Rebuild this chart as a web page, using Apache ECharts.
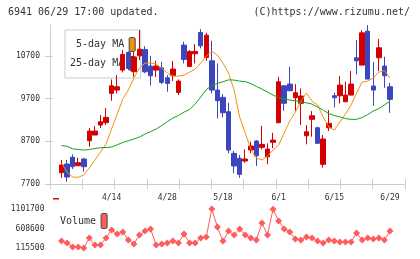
<!DOCTYPE html>
<html>
<head>
<meta charset="utf-8">
<script src="https://cdn.jsdelivr.net/npm/echarts@6/dist/echarts.min.js"></script>
<style>
  html, body { margin: 0; padding: 0; background: #fff; }
  #chart { width: 420px; height: 259px; }
</style>
</head>
<body>
<div id="chart"></div>
<script>
// trading days (2022), labels every 10 days
const dates = ['4/1','4/4','4/5','4/6','4/7','4/8','4/11','4/12','4/13','4/14',
  '4/15','4/18','4/19','4/20','4/21','4/22','4/25','4/26','4/27','4/28',
  '5/2','5/6','5/9','5/10','5/11','5/12','5/13','5/16','5/17','5/18',
  '5/19','5/20','5/23','5/24','5/25','5/26','5/27','5/30','5/31','6/1',
  '6/2','6/3','6/6','6/7','6/8','6/9','6/10','6/13','6/14','6/15',
  '6/16','6/17','6/20','6/21','6/22','6/23','6/24','6/27','6/28','6/29'];

const opens  = [7965,8169,8326,8129,8286,8715,8849,9083,9137,9826,
  9903,10372,10787,10335,10707,10857,10466,10372,10426,10192,
  10239,9849,10958,10458,10755,11255,10669,10590,9903,9732,
  9395,8419,8302,8239,8497,8708,8560,8340,8677,9137,
  10004,10044,9723,9592,8832,9217,9020,8162,9020,9770,
  9770,9629,9786,10661,10489,11286,9997,10661,10466,9981];
const closes = [8145,7864,8106,8199,8106,8942,8942,9160,9263,10004,
  9981,10740,10412,10680,10864,10332,10239,10466,10084,10060,
  10396,10114,10623,10810,10810,10942,11192,9903,9653,9371,
  8497,8122,7927,8286,8591,8363,8630,8520,8731,10098,
  9592,9887,9841,9763,8926,9301,8654,8755,9122,9723,
  10020,9786,10044,10590,11246,10161,9903,10895,10239,9686];
const lows   = [7841,7754,8052,8129,7988,8574,8849,9013,9083,9653,
  9826,10318,10372,10215,10607,10302,10010,10215,10044,9864,
  10114,9786,10529,10458,10529,10880,10590,9826,9240,9263,
  8419,7958,7848,8199,8419,8122,8513,8162,8537,9130,
  9418,9887,9418,9083,8630,8809,8654,8082,8942,9498,
  9592,9629,9786,10271,10489,10161,9535,10349,9957,9371];
const highs  = [8263,8263,8396,8316,8316,9013,9060,9317,9481,10154,
  10255,10841,10818,10794,11310,10935,10707,10590,10567,10255,
  10583,10154,11036,10841,10981,11333,11246,11060,10529,9810,
  9606,8474,8380,8513,8692,8731,9067,8654,8902,10215,
  10020,10450,10044,9943,9083,9411,9043,8849,9434,9840,
  10231,10098,10349,11075,11310,11427,10567,11099,10684,10075];

const ma5  = [8192,7981,7864,7857,7911,8075,8263,8450,8638,8990,
  9341,9692,9903,10185,10419,10536,10536,10513,10419,10302,
  10231,10231,10255,10325,10396,10536,10700,10818,10724,10536,
  10302,9903,9270,8895,8520,8309,8263,8356,8497,8614,
  8895,9177,9388,9645,9833,9645,9552,9270,9036,8966,
  9153,9341,9552,9833,10091,10114,10185,10325,10360,10185];
const ma25 = [8602,8584,8525,8509,8497,8509,8532,8551,8556,8567,
  8619,8673,8715,8755,8802,8872,8930,8989,9071,9165,
  9247,9306,9388,9446,9575,9739,9915,10009,10061,10098,
  10143,10138,10114,10102,10055,9990,9927,9856,9786,9727,
  9697,9669,9655,9627,9603,9575,9505,9434,9352,9306,
  9275,9235,9217,9217,9259,9329,9411,9470,9552,9646];

const volumes = [292500,241900,140800,140800,115500,368400,191400,191400,368400,570700,
  469500,520100,317800,216600,444200,545400,596000,191400,216600,241900,
  292500,241900,469500,241900,241900,368400,393700,1101700,646500,292500,
  545400,444200,596000,444200,368400,317800,747700,444200,1095000,798200,
  596000,520100,343100,317800,393700,368400,292500,241900,317800,292500,
  267200,267200,267200,494800,317800,368400,343100,368400,317800,545400];

const priceTicks = [7700, 8700, 9700, 10700];
const volumeTicks = [115500, 608600, 1101700];

const UP = '#d40000', DOWN = '#3c46be';
const ORANGE = '#f0920f', GREEN = '#19a019', VOL = '#ff5c5c';
const AXIS = '#cccccc';
const MONO = 'DejaVu Sans Mono';
const plain = v => String(v);

const candles = dates.map((d, i) => [opens[i], closes[i], lows[i], highs[i]]);

const chart = echarts.init(document.getElementById('chart'));

const option = {
  animation: false,
  backgroundColor: '#fff',
  title: [
    { text: '6941 06/29 17:00 updated.', left: 8, top: 7, padding: 0,
      textStyle: { fontFamily: MONO, fontSize: 10, fontWeight: 'normal', color: '#333' } },
    { text: '(C)https://www.rizumu.net/', right: 10, top: 7, padding: 0,
      textStyle: { fontFamily: MONO, fontSize: 10, fontWeight: 'normal', color: '#333' } }
  ],
  legend: [
    {
      data: ['5-day MA', '25-day MA'],
      left: 65, top: 30, orient: 'vertical', align: 'right',
      padding: [7, 5, 7, 5], itemGap: 4, itemWidth: 6, itemHeight: 14,
      borderColor: '#cccccc', borderWidth: 1, selectedMode: false, z: 1,
      itemStyle: { borderColor: '#444', borderWidth: 1 },
      formatter: name => name.padStart(9, ' '),
      textStyle: { fontFamily: MONO, fontSize: 10, color: '#333' }
    },
    {
      data: ['Volume'],
      left: 60, top: 213, align: 'right', padding: 0,
      itemWidth: 6, itemHeight: 15, selectedMode: false,
      itemStyle: { borderColor: '#444', borderWidth: 1 },
      textStyle: { fontFamily: MONO, fontSize: 10, color: '#333' }
    }
  ],
  grid: [
    { left: 50, right: 15, top: 25, bottom: 75 },       // frame
    { left: 61.5, right: 30, top: 25, bottom: 75 },     // candles
    { left: 61.5, right: 30, top: 209, bottom: 11 }     // volume
  ],
  xAxis: [
    { type: 'value', gridIndex: 0, min: 0, max: 11, interval: 1, position: 'bottom',
      axisLine: { lineStyle: { color: AXIS } },
      axisTick: { length: 5, lineStyle: { color: AXIS } },
      axisLabel: { show: false }, splitLine: { show: false } },
    { type: 'value', gridIndex: 0, min: 0, max: 11, interval: 1, position: 'bottom',
      axisLine: { show: false },
      axisTick: { inside: true, length: 5, lineStyle: { color: AXIS } },
      axisLabel: { show: false }, splitLine: { show: false } },
    { type: 'category', gridIndex: 1, data: dates, boundaryGap: false,
      axisLine: { show: false }, axisTick: { show: false },
      axisLabel: { interval: (idx) => idx % 10 === 9, margin: 10,
        fontFamily: MONO, fontSize: 8, color: '#333' } },
    { type: 'category', gridIndex: 2, data: dates, boundaryGap: false,
      axisLine: { show: false }, axisTick: { show: false }, axisLabel: { show: false } }
  ],
  yAxis: [
    { type: 'value', gridIndex: 0, min: 7700, max: 11430, position: 'left',
      axisLine: { show: true, lineStyle: { color: AXIS } },
      axisTick: { show: true, length: 5, customValues: priceTicks, lineStyle: { color: AXIS } },
      axisLabel: { customValues: priceTicks, formatter: plain, margin: 10,
        fontFamily: MONO, fontSize: 8, color: '#333' },
      splitLine: { show: false } },
    { type: 'value', gridIndex: 0, min: 7700, max: 11430, position: 'left',
      axisLine: { show: false },
      axisTick: { show: true, inside: true, length: 3, customValues: priceTicks, lineStyle: { color: AXIS } },
      axisLabel: { show: false }, splitLine: { show: false } },
    { type: 'value', gridIndex: 1, min: 7700, max: 11430, show: false },
    { type: 'value', gridIndex: 2, min: 115500, max: 1101700, position: 'left',
      axisLine: { show: false }, axisTick: { show: false }, splitLine: { show: false },
      axisLabel: { customValues: volumeTicks, formatter: plain, margin: 17,
        fontFamily: MONO, fontSize: 8, color: '#333' } }
  ],
  series: [
    { type: 'candlestick', xAxisIndex: 2, yAxisIndex: 2, data: candles, barWidth: 5, clip: false,
      itemStyle: { color: UP, color0: DOWN, borderColor: UP, borderColor0: DOWN, borderWidth: 1 } },
    { name: 'ma5', type: 'line', xAxisIndex: 2, yAxisIndex: 2, data: ma5, showSymbol: false,
      lineStyle: { color: ORANGE, width: 1 }, z: 3 },
    { name: 'ma25', type: 'line', xAxisIndex: 2, yAxisIndex: 2, data: ma25, showSymbol: false,
      lineStyle: { color: GREEN, width: 1 }, z: 3 },
    { name: '5-day MA', type: 'bar', xAxisIndex: 2, yAxisIndex: 2, data: [], itemStyle: { color: ORANGE } },
    { name: '25-day MA', type: 'bar', xAxisIndex: 2, yAxisIndex: 2, data: [], itemStyle: { color: GREEN } },
    { name: 'vol', type: 'line', xAxisIndex: 3, yAxisIndex: 3, data: volumes, clip: false,
      symbol: 'diamond', symbolSize: 7, showAllSymbol: true,
      itemStyle: { color: VOL }, lineStyle: { color: VOL, width: 1 } },
    { name: 'Volume', type: 'bar', xAxisIndex: 3, yAxisIndex: 3, data: [], itemStyle: { color: VOL } }
  ],
  graphic: [
    { type: 'rect', left: 53, top: 198, shape: { width: 6, height: 1.5 }, style: { fill: UP } }
  ]
};

chart.setOption(option);
</script>
</body>
</html>
